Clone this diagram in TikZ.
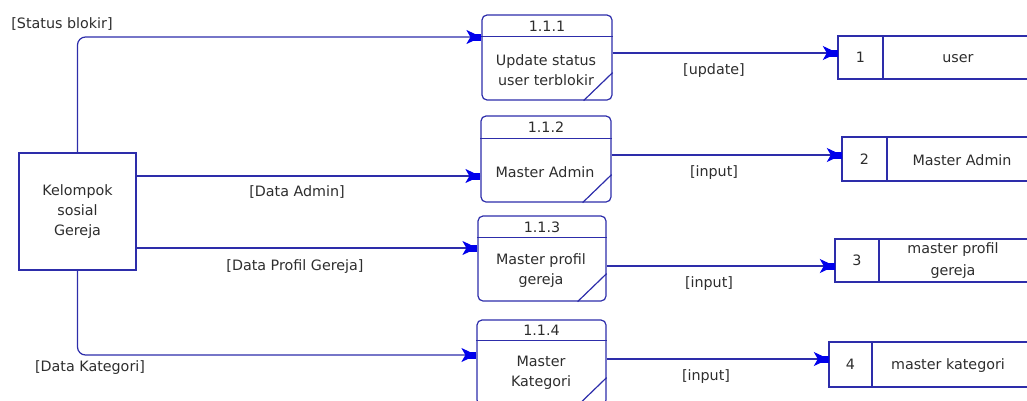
\documentclass[tikz,border=0pt]{standalone}
\usepackage{fontspec}
\setmainfont{DejaVu Sans}
\usetikzlibrary{arrows.meta}
\definecolor{ln}{RGB}{45,45,170}
\definecolor{ar}{RGB}{0,0,235}
\definecolor{tx}{RGB}{45,45,45}
\tikzset{
  line/.style={draw=ln, line width=1.2pt},
  flow/.style={line, -{Stealth[length=15pt,width=14pt,inset=4pt,color=ar,sep=-8pt]Rectangle[length=8pt,width=7pt,color=ar]}},
  proc/.style={line, rounded corners=5pt, inner sep=0pt, minimum height=85pt},
  txt/.style={text=tx, align=center, inner sep=0pt},
  cell/.style={inner sep=0pt, text=tx},
  lbl/.style={text=tx, inner sep=0pt}
}
% store: name, left x, top y, bottom y, divider x, number, label, label x
\newcommand{\dstore}[8]{%
  \draw[line] (1040,#3) -- (#2,#3) -- (#2,#4) -- (1040,#4);
  \draw[line] (#5,#3) -- (#5,#4);
  \node[cell, minimum width={(#5)-(#2)}, minimum height={(#4)-(#3)}] (#1) at ({((#2)+(#5))/2},{((#3)+(#4))/2}) {#6};
  \node[txt] (#1t) at (#8,{((#3)+(#4))/2+1}) {#7};
}
% process: name, divider offset from top
\newcommand{\procparts}[2]{%
  \draw[line] ([yshift=-#2pt]#1.north west) -- ([yshift=-#2pt]#1.north east);
  \draw[line] ([xshift=-29pt]#1.south east) -- ([yshift=28pt]#1.south east);
}
\begin{document}
\begin{tikzpicture}[x=1pt, y=-1pt, font=\fontsize{14.3}{20}\selectfont]
\useasboundingbox (0,0) rectangle (1027,400);

% external entity
\node[line, txt, minimum width=117pt, minimum height=117pt] (k) at (77.5,211.5) {Kelompok\\sosial\\Gereja};

% processes
\node[proc, minimum width=130pt] (p1) at (547,57.5) {};
\procparts{p1}{22}
\node[txt] (p1n) at (547,26) {1.1.1};
\node[txt] (p1t) at (546,70) {Update status\\user terblokir};

\node[proc, minimum width=130pt, minimum height=86pt] (p2) at (546,159) {};
\procparts{p2}{23}
\node[txt] (p2n) at (546,127.5) {1.1.2};
\node[txt] (p2t) at (545,172) {Master Admin};

\node[proc, minimum width=128pt] (p3) at (542,258.5) {};
\procparts{p3}{22}
\node[txt] (p3n) at (542,227) {1.1.3};
\node[txt] (p3t) at (541,271) {Master profil\\gereja};

\node[proc, minimum width=129pt] (p4) at (541.5,362.5) {};
\procparts{p4}{21}
\node[txt] (p4n) at (541.5,330.5) {1.1.4};
\node[txt] (p4t) at (541,373) {Master\\Kategori};

% data stores
\dstore{s1}{838}{36}{79}{883}{1}{user}{958}
\dstore{s2}{842}{137}{181}{887}{2}{Master Admin}{962}
\node[txt, font=\fontsize{14.3}{22}\selectfont] (s3t) at (953,261) {master profil\\gereja};
\dstore{s3}{835}{239}{282}{879}{3}{}{953}
\dstore{s4}{829}{342}{387}{872}{4}{master kategori}{948}

% flows from entity
\draw[flow, rounded corners=8pt] (k.north) |- (p1.west |- 0,37);
\draw[flow] (k.east |- 0,176) -- (p2.west |- 0,176);
\draw[flow] (k.east |- 0,248) -- (p3.west |- 0,248);
\draw[flow, rounded corners=8pt] (k.south) |- (p4.west |- 0,355);

% flows to stores
\draw[flow] (p1.east |- 0,53) -- (s1.west |- 0,53);
\draw[flow] (p2.east |- 0,155) -- (s2.west |- 0,155);
\draw[flow] (p3.east |- 0,266) -- (s3.west |- 0,266);
\draw[flow] (p4.east |- 0,359) -- (s4.west |- 0,359);

% labels
\node[lbl] (l1) at (62,24) {[Status blokir]};
\node[lbl] (l2) at (297,192) {[Data Admin]};
\node[lbl] (l3) at (295,267) {[Data Profil Gereja]};
\node[lbl] (l4) at (90,368) {[Data Kategori]};
\node[lbl] (l5) at (714,71) {[update]};
\node[lbl] (l6) at (714,173) {[input]};
\node[lbl] (l7) at (709,284) {[input]};
\node[lbl] (l8) at (706,377) {[input]};
\end{tikzpicture}
\end{document}
